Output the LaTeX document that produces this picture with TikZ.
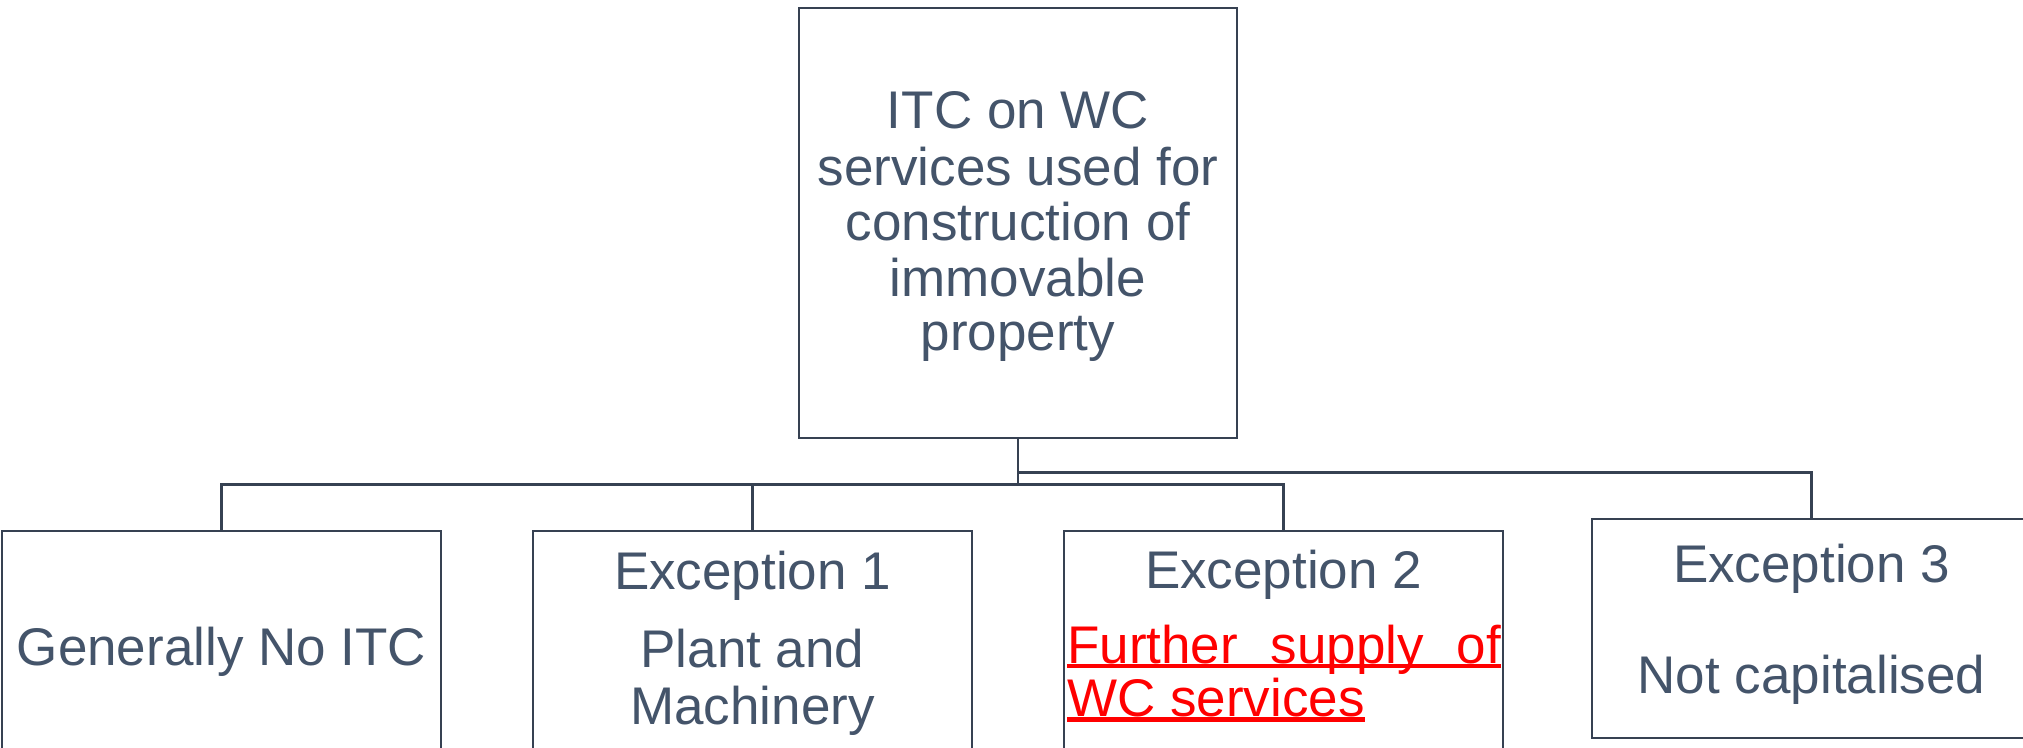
\documentclass[tikz,border=0pt]{standalone}
\usepackage{fontspec}
\setmainfont{Liberation Sans}
\definecolor{ink}{HTML}{44546A}
\definecolor{rule}{HTML}{364152}
\definecolor{alert}{HTML}{FF0000}
\begin{document}
\begin{tikzpicture}[x=1pt,y=-1pt,
  box/.style={draw=rule, line width=2.8pt, rectangle, inner sep=0pt, fill=white},
  link/.style={draw=rule, line width=2.8pt},
  txt/.style={anchor=base, inner sep=0pt, text=ink, font=\fontsize{53}{55}\selectfont},
  redtxt/.style={anchor=base west, inner sep=0pt, text=alert, font=\fontsize{53}{55}\selectfont},
  uline/.style={draw=alert, line width=4.5pt}]
\useasboundingbox (0,0) rectangle (2023,747);
\clip (0,0) rectangle (2023,747);

% boxes
\node[box, minimum width=438pt, minimum height=430pt] (top) at (1018,223) {};
\node[box, minimum width=439pt, minimum height=240pt] (b1) at (221.5,651) {};
\node[box, minimum width=439pt, minimum height=240pt] (b2) at (752.5,651) {};
\node[box, minimum width=439pt, minimum height=240pt] (b3) at (1283.5,651) {};
\node[box, minimum width=439pt, minimum height=219pt] (b4) at (1811.5,628.5) {};

% branch points
\coordinate (bus)  at (1018,484.5);
\coordinate (bus3) at (1018,472.5);

% connectors
\draw[link] (top.south) -- (bus);
\draw[link] (bus) -| (b1.north);
\draw[link] (bus) -| (b2.north);
\draw[link] (bus) -| (b3.north);
\draw[link] (bus3) -| (b4.north);

% root text
\node[txt] (t1) at (1018,128) {ITC on WC};
\node[txt] (t2) at (1018,185) {services used for};
\node[txt] (t3) at (1018,240) {construction of};
\node[txt] (t4) at (1018,296) {immovable};
\node[txt] (t5) at (1018,350) {property};

% child texts
\node[txt] (g1) at (221.5,665) {Generally No ITC};

\node[txt] (e1) at (752.5,589) {Exception 1};
\node[txt] (e1a) at (752.5,667) {Plant and};
\node[txt] (e1b) at (752.5,724) {Machinery};

\node[txt] (e2) at (1283.5,588) {Exception 2};
\node[redtxt] (e2a) at (1067,663) {\makebox[434pt][s]{Further supply of}};
\node[redtxt] (e2b) at (1067,716) {WC services};
\draw[uline] ([yshift=-3pt]e2a.base west) -- ([yshift=-3pt]e2a.base east);
\draw[uline] ([yshift=-3.5pt]e2b.base west) -- ([yshift=-3.5pt]e2b.base east);

\node[txt] (e3) at (1811.5,582) {Exception 3};
\node[txt] (e3a) at (1811.5,693) {Not capitalised};
\end{tikzpicture}
\end{document}
